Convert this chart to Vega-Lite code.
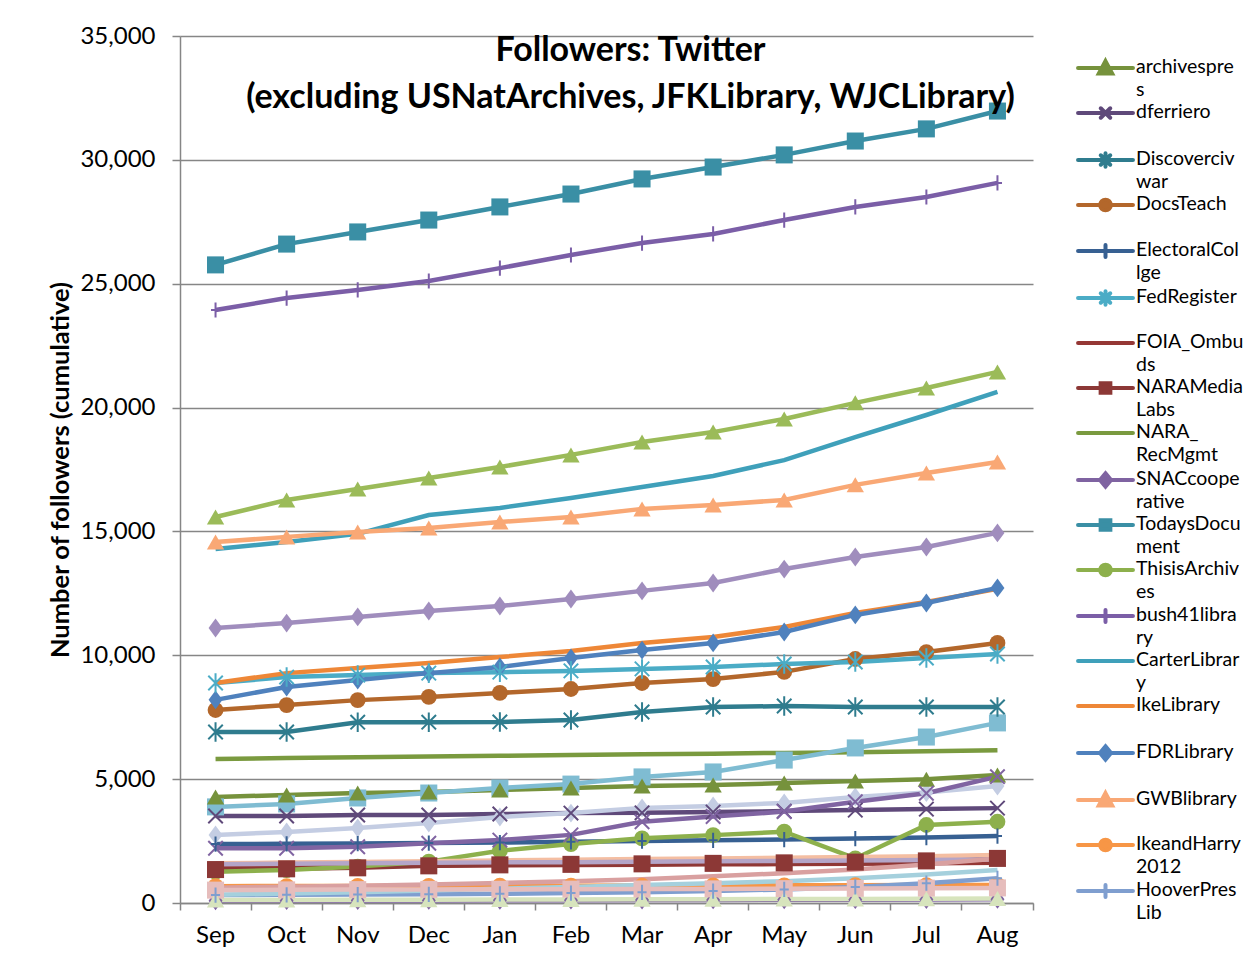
{
"$schema": "https://vega.github.io/schema/vega-lite/v6.json",
"autosize": {"type": "none"},
"padding": {"left": 180, "top": 36, "right": 220, "bottom": 61},
"width": 853,
"height": 867,
"background": "white",
"config": {"font": "Lato", "view": {"stroke": null}},
"title": {"text": ["Followers: Twitter", "(excluding USNatArchives, JFKLibrary, WJCLibrary)"], "font": "Lato", "fontSize": 34, "fontWeight": "bold", "lineHeight": 47, "anchor": "middle", "frame": "group", "dx": 24, "offset": -91, "color": "black"},
"data": {"values": [
{"account":"archivespres","month":"Sep","followers":4280},{"account":"archivespres","month":"Oct","followers":4360},{"account":"archivespres","month":"Nov","followers":4440},{"account":"archivespres","month":"Dec","followers":4480},{"account":"archivespres","month":"Jan","followers":4560},{"account":"archivespres","month":"Feb","followers":4640},{"account":"archivespres","month":"Mar","followers":4720},{"account":"archivespres","month":"Apr","followers":4760},{"account":"archivespres","month":"May","followers":4840},{"account":"archivespres","month":"Jun","followers":4920},{"account":"archivespres","month":"Jul","followers":5000},{"account":"archivespres","month":"Aug","followers":5170},
{"account":"dferriero","month":"Sep","followers":3510},{"account":"dferriero","month":"Oct","followers":3510},{"account":"dferriero","month":"Nov","followers":3550},{"account":"dferriero","month":"Dec","followers":3550},{"account":"dferriero","month":"Jan","followers":3590},{"account":"dferriero","month":"Feb","followers":3630},{"account":"dferriero","month":"Mar","followers":3640},{"account":"dferriero","month":"Apr","followers":3670},{"account":"dferriero","month":"May","followers":3710},{"account":"dferriero","month":"Jun","followers":3750},{"account":"dferriero","month":"Jul","followers":3790},{"account":"dferriero","month":"Aug","followers":3830},
{"account":"Discovercivwar","month":"Sep","followers":6900},{"account":"Discovercivwar","month":"Oct","followers":6900},{"account":"Discovercivwar","month":"Nov","followers":7300},{"account":"Discovercivwar","month":"Dec","followers":7300},{"account":"Discovercivwar","month":"Jan","followers":7310},{"account":"Discovercivwar","month":"Feb","followers":7390},{"account":"Discovercivwar","month":"Mar","followers":7710},{"account":"Discovercivwar","month":"Apr","followers":7910},{"account":"Discovercivwar","month":"May","followers":7950},{"account":"Discovercivwar","month":"Jun","followers":7910},{"account":"Discovercivwar","month":"Jul","followers":7910},{"account":"Discovercivwar","month":"Aug","followers":7910},
{"account":"DocsTeach","month":"Sep","followers":7790},{"account":"DocsTeach","month":"Oct","followers":7990},{"account":"DocsTeach","month":"Nov","followers":8190},{"account":"DocsTeach","month":"Dec","followers":8320},{"account":"DocsTeach","month":"Jan","followers":8480},{"account":"DocsTeach","month":"Feb","followers":8640},{"account":"DocsTeach","month":"Mar","followers":8880},{"account":"DocsTeach","month":"Apr","followers":9040},{"account":"DocsTeach","month":"May","followers":9330},{"account":"DocsTeach","month":"Jun","followers":9850},{"account":"DocsTeach","month":"Jul","followers":10130},{"account":"DocsTeach","month":"Aug","followers":10500},
{"account":"ElectoralCollge","month":"Sep","followers":2380},{"account":"ElectoralCollge","month":"Oct","followers":2390},{"account":"ElectoralCollge","month":"Nov","followers":2400},{"account":"ElectoralCollge","month":"Dec","followers":2420},{"account":"ElectoralCollge","month":"Jan","followers":2440},{"account":"ElectoralCollge","month":"Feb","followers":2470},{"account":"ElectoralCollge","month":"Mar","followers":2500},{"account":"ElectoralCollge","month":"Apr","followers":2530},{"account":"ElectoralCollge","month":"May","followers":2560},{"account":"ElectoralCollge","month":"Jun","followers":2600},{"account":"ElectoralCollge","month":"Jul","followers":2640},{"account":"ElectoralCollge","month":"Aug","followers":2700},
{"account":"FedRegister","month":"Sep","followers":8880},{"account":"FedRegister","month":"Oct","followers":9120},{"account":"FedRegister","month":"Nov","followers":9200},{"account":"FedRegister","month":"Dec","followers":9280},{"account":"FedRegister","month":"Jan","followers":9320},{"account":"FedRegister","month":"Feb","followers":9370},{"account":"FedRegister","month":"Mar","followers":9450},{"account":"FedRegister","month":"Apr","followers":9530},{"account":"FedRegister","month":"May","followers":9650},{"account":"FedRegister","month":"Jun","followers":9730},{"account":"FedRegister","month":"Jul","followers":9890},{"account":"FedRegister","month":"Aug","followers":10050},
{"account":"FOIA_Ombuds","month":"Sep","followers":1450},{"account":"FOIA_Ombuds","month":"Oct","followers":1470},{"account":"FOIA_Ombuds","month":"Nov","followers":1490},{"account":"FOIA_Ombuds","month":"Dec","followers":1500},{"account":"FOIA_Ombuds","month":"Jan","followers":1520},{"account":"FOIA_Ombuds","month":"Feb","followers":1530},{"account":"FOIA_Ombuds","month":"Mar","followers":1540},{"account":"FOIA_Ombuds","month":"Apr","followers":1560},{"account":"FOIA_Ombuds","month":"May","followers":1570},{"account":"FOIA_Ombuds","month":"Jun","followers":1580},{"account":"FOIA_Ombuds","month":"Jul","followers":1600},{"account":"FOIA_Ombuds","month":"Aug","followers":1620},
{"account":"NARAMediaLabs","month":"Sep","followers":1350},{"account":"NARAMediaLabs","month":"Oct","followers":1380},{"account":"NARAMediaLabs","month":"Nov","followers":1420},{"account":"NARAMediaLabs","month":"Dec","followers":1500},{"account":"NARAMediaLabs","month":"Jan","followers":1540},{"account":"NARAMediaLabs","month":"Feb","followers":1560},{"account":"NARAMediaLabs","month":"Mar","followers":1580},{"account":"NARAMediaLabs","month":"Apr","followers":1600},{"account":"NARAMediaLabs","month":"May","followers":1620},{"account":"NARAMediaLabs","month":"Jun","followers":1650},{"account":"NARAMediaLabs","month":"Jul","followers":1700},{"account":"NARAMediaLabs","month":"Aug","followers":1800},
{"account":"NARA_RecMgmt","month":"Sep","followers":5810},{"account":"NARA_RecMgmt","month":"Oct","followers":5850},{"account":"NARA_RecMgmt","month":"Nov","followers":5880},{"account":"NARA_RecMgmt","month":"Dec","followers":5910},{"account":"NARA_RecMgmt","month":"Jan","followers":5940},{"account":"NARA_RecMgmt","month":"Feb","followers":5970},{"account":"NARA_RecMgmt","month":"Mar","followers":6000},{"account":"NARA_RecMgmt","month":"Apr","followers":6030},{"account":"NARA_RecMgmt","month":"May","followers":6060},{"account":"NARA_RecMgmt","month":"Jun","followers":6090},{"account":"NARA_RecMgmt","month":"Jul","followers":6130},{"account":"NARA_RecMgmt","month":"Aug","followers":6170},
{"account":"SNACcooperative","month":"Sep","followers":90},{"account":"SNACcooperative","month":"Oct","followers":95},{"account":"SNACcooperative","month":"Nov","followers":100},{"account":"SNACcooperative","month":"Dec","followers":105},{"account":"SNACcooperative","month":"Jan","followers":110},{"account":"SNACcooperative","month":"Feb","followers":115},{"account":"SNACcooperative","month":"Mar","followers":120},{"account":"SNACcooperative","month":"Apr","followers":125},{"account":"SNACcooperative","month":"May","followers":130},{"account":"SNACcooperative","month":"Jun","followers":135},{"account":"SNACcooperative","month":"Jul","followers":140},{"account":"SNACcooperative","month":"Aug","followers":150},
{"account":"TodaysDocument","month":"Sep","followers":25760},{"account":"TodaysDocument","month":"Oct","followers":26600},{"account":"TodaysDocument","month":"Nov","followers":27090},{"account":"TodaysDocument","month":"Dec","followers":27570},{"account":"TodaysDocument","month":"Jan","followers":28100},{"account":"TodaysDocument","month":"Feb","followers":28620},{"account":"TodaysDocument","month":"Mar","followers":29230},{"account":"TodaysDocument","month":"Apr","followers":29710},{"account":"TodaysDocument","month":"May","followers":30200},{"account":"TodaysDocument","month":"Jun","followers":30760},{"account":"TodaysDocument","month":"Jul","followers":31250},{"account":"TodaysDocument","month":"Aug","followers":31970},
{"account":"ThisisArchives","month":"Sep","followers":1260},{"account":"ThisisArchives","month":"Oct","followers":1330},{"account":"ThisisArchives","month":"Nov","followers":1470},{"account":"ThisisArchives","month":"Dec","followers":1670},{"account":"ThisisArchives","month":"Jan","followers":2110},{"account":"ThisisArchives","month":"Feb","followers":2380},{"account":"ThisisArchives","month":"Mar","followers":2610},{"account":"ThisisArchives","month":"Apr","followers":2740},{"account":"ThisisArchives","month":"May","followers":2880},{"account":"ThisisArchives","month":"Jun","followers":1800},{"account":"ThisisArchives","month":"Jul","followers":3150},{"account":"ThisisArchives","month":"Aug","followers":3280},
{"account":"bush41library","month":"Sep","followers":23940},{"account":"bush41library","month":"Oct","followers":24420},{"account":"bush41library","month":"Nov","followers":24750},{"account":"bush41library","month":"Dec","followers":25110},{"account":"bush41library","month":"Jan","followers":25630},{"account":"bush41library","month":"Feb","followers":26160},{"account":"bush41library","month":"Mar","followers":26640},{"account":"bush41library","month":"Apr","followers":27010},{"account":"bush41library","month":"May","followers":27570},{"account":"bush41library","month":"Jun","followers":28100},{"account":"bush41library","month":"Jul","followers":28500},{"account":"bush41library","month":"Aug","followers":29070},
{"account":"CarterLibrary","month":"Sep","followers":14290},{"account":"CarterLibrary","month":"Oct","followers":14570},{"account":"CarterLibrary","month":"Nov","followers":14900},{"account":"CarterLibrary","month":"Dec","followers":15660},{"account":"CarterLibrary","month":"Jan","followers":15950},{"account":"CarterLibrary","month":"Feb","followers":16350},{"account":"CarterLibrary","month":"Mar","followers":16790},{"account":"CarterLibrary","month":"Apr","followers":17240},{"account":"CarterLibrary","month":"May","followers":17880},{"account":"CarterLibrary","month":"Jun","followers":18810},{"account":"CarterLibrary","month":"Jul","followers":19700},{"account":"CarterLibrary","month":"Aug","followers":20630},
{"account":"IkeLibrary","month":"Sep","followers":8880},{"account":"IkeLibrary","month":"Oct","followers":9280},{"account":"IkeLibrary","month":"Nov","followers":9490},{"account":"IkeLibrary","month":"Dec","followers":9690},{"account":"IkeLibrary","month":"Jan","followers":9930},{"account":"IkeLibrary","month":"Feb","followers":10170},{"account":"IkeLibrary","month":"Mar","followers":10500},{"account":"IkeLibrary","month":"Apr","followers":10740},{"account":"IkeLibrary","month":"May","followers":11140},{"account":"IkeLibrary","month":"Jun","followers":11710},{"account":"IkeLibrary","month":"Jul","followers":12150},{"account":"IkeLibrary","month":"Aug","followers":12680},
{"account":"FDRLibrary","month":"Sep","followers":8200},{"account":"FDRLibrary","month":"Oct","followers":8720},{"account":"FDRLibrary","month":"Nov","followers":9000},{"account":"FDRLibrary","month":"Dec","followers":9280},{"account":"FDRLibrary","month":"Jan","followers":9530},{"account":"FDRLibrary","month":"Feb","followers":9890},{"account":"FDRLibrary","month":"Mar","followers":10210},{"account":"FDRLibrary","month":"Apr","followers":10500},{"account":"FDRLibrary","month":"May","followers":10940},{"account":"FDRLibrary","month":"Jun","followers":11630},{"account":"FDRLibrary","month":"Jul","followers":12110},{"account":"FDRLibrary","month":"Aug","followers":12720},
{"account":"GWBlibrary","month":"Sep","followers":14570},{"account":"GWBlibrary","month":"Oct","followers":14780},{"account":"GWBlibrary","month":"Nov","followers":14980},{"account":"GWBlibrary","month":"Dec","followers":15140},{"account":"GWBlibrary","month":"Jan","followers":15380},{"account":"GWBlibrary","month":"Feb","followers":15580},{"account":"GWBlibrary","month":"Mar","followers":15910},{"account":"GWBlibrary","month":"Apr","followers":16070},{"account":"GWBlibrary","month":"May","followers":16270},{"account":"GWBlibrary","month":"Jun","followers":16880},{"account":"GWBlibrary","month":"Jul","followers":17360},{"account":"GWBlibrary","month":"Aug","followers":17800},
{"account":"IkeandHarry2012","month":"Sep","followers":680},{"account":"IkeandHarry2012","month":"Oct","followers":685},{"account":"IkeandHarry2012","month":"Nov","followers":690},{"account":"IkeandHarry2012","month":"Dec","followers":695},{"account":"IkeandHarry2012","month":"Jan","followers":700},{"account":"IkeandHarry2012","month":"Feb","followers":700},{"account":"IkeandHarry2012","month":"Mar","followers":705},{"account":"IkeandHarry2012","month":"Apr","followers":710},{"account":"IkeandHarry2012","month":"May","followers":715},{"account":"IkeandHarry2012","month":"Jun","followers":720},{"account":"IkeandHarry2012","month":"Jul","followers":725},{"account":"IkeandHarry2012","month":"Aug","followers":730},
{"account":"HooverPresLib","month":"Sep","followers":320},{"account":"HooverPresLib","month":"Oct","followers":330},{"account":"HooverPresLib","month":"Nov","followers":340},{"account":"HooverPresLib","month":"Dec","followers":350},{"account":"HooverPresLib","month":"Jan","followers":370},{"account":"HooverPresLib","month":"Feb","followers":400},{"account":"HooverPresLib","month":"Mar","followers":430},{"account":"HooverPresLib","month":"Apr","followers":480},{"account":"HooverPresLib","month":"May","followers":550},{"account":"HooverPresLib","month":"Jun","followers":650},{"account":"HooverPresLib","month":"Jul","followers":800},{"account":"HooverPresLib","month":"Aug","followers":1000},
{"account":"ReaganLibrary","month":"Sep","followers":15580},{"account":"ReaganLibrary","month":"Oct","followers":16270},{"account":"ReaganLibrary","month":"Nov","followers":16710},{"account":"ReaganLibrary","month":"Dec","followers":17160},{"account":"ReaganLibrary","month":"Jan","followers":17600},{"account":"ReaganLibrary","month":"Feb","followers":18090},{"account":"ReaganLibrary","month":"Mar","followers":18610},{"account":"ReaganLibrary","month":"Apr","followers":19010},{"account":"ReaganLibrary","month":"May","followers":19540},{"account":"ReaganLibrary","month":"Jun","followers":20190},{"account":"ReaganLibrary","month":"Jul","followers":20790},{"account":"ReaganLibrary","month":"Aug","followers":21440},
{"account":"LBJLibrary","month":"Sep","followers":11100},{"account":"LBJLibrary","month":"Oct","followers":11300},{"account":"LBJLibrary","month":"Nov","followers":11550},{"account":"LBJLibrary","month":"Dec","followers":11790},{"account":"LBJLibrary","month":"Jan","followers":11990},{"account":"LBJLibrary","month":"Feb","followers":12270},{"account":"LBJLibrary","month":"Mar","followers":12600},{"account":"LBJLibrary","month":"Apr","followers":12920},{"account":"LBJLibrary","month":"May","followers":13480},{"account":"LBJLibrary","month":"Jun","followers":13970},{"account":"LBJLibrary","month":"Jul","followers":14370},{"account":"LBJLibrary","month":"Aug","followers":14940},
{"account":"NixonLibrary","month":"Sep","followers":3880},{"account":"NixonLibrary","month":"Oct","followers":4000},{"account":"NixonLibrary","month":"Nov","followers":4240},{"account":"NixonLibrary","month":"Dec","followers":4440},{"account":"NixonLibrary","month":"Jan","followers":4640},{"account":"NixonLibrary","month":"Feb","followers":4800},{"account":"NixonLibrary","month":"Mar","followers":5090},{"account":"NixonLibrary","month":"Apr","followers":5290},{"account":"NixonLibrary","month":"May","followers":5770},{"account":"NixonLibrary","month":"Jun","followers":6260},{"account":"NixonLibrary","month":"Jul","followers":6700},{"account":"NixonLibrary","month":"Aug","followers":7270},
{"account":"TrumanLibrary","month":"Sep","followers":2750},{"account":"TrumanLibrary","month":"Oct","followers":2870},{"account":"TrumanLibrary","month":"Nov","followers":3030},{"account":"TrumanLibrary","month":"Dec","followers":3230},{"account":"TrumanLibrary","month":"Jan","followers":3470},{"account":"TrumanLibrary","month":"Feb","followers":3630},{"account":"TrumanLibrary","month":"Mar","followers":3840},{"account":"TrumanLibrary","month":"Apr","followers":3920},{"account":"TrumanLibrary","month":"May","followers":4040},{"account":"TrumanLibrary","month":"Jun","followers":4280},{"account":"TrumanLibrary","month":"Jul","followers":4460},{"account":"TrumanLibrary","month":"Aug","followers":4720},
{"account":"OurPresidents","month":"Sep","followers":2210},{"account":"OurPresidents","month":"Oct","followers":2210},{"account":"OurPresidents","month":"Nov","followers":2270},{"account":"OurPresidents","month":"Dec","followers":2410},{"account":"OurPresidents","month":"Jan","followers":2540},{"account":"OurPresidents","month":"Feb","followers":2750},{"account":"OurPresidents","month":"Mar","followers":3280},{"account":"OurPresidents","month":"Apr","followers":3490},{"account":"OurPresidents","month":"May","followers":3690},{"account":"OurPresidents","month":"Jun","followers":4090},{"account":"OurPresidents","month":"Jul","followers":4430},{"account":"OurPresidents","month":"Aug","followers":5100},
{"account":"archivesfdn","month":"Sep","followers":1600},{"account":"archivesfdn","month":"Oct","followers":1630},{"account":"archivesfdn","month":"Nov","followers":1660},{"account":"archivesfdn","month":"Dec","followers":1690},{"account":"archivesfdn","month":"Jan","followers":1720},{"account":"archivesfdn","month":"Feb","followers":1750},{"account":"archivesfdn","month":"Mar","followers":1780},{"account":"archivesfdn","month":"Apr","followers":1800},{"account":"archivesfdn","month":"May","followers":1830},{"account":"archivesfdn","month":"Jun","followers":1860},{"account":"archivesfdn","month":"Jul","followers":1890},{"account":"archivesfdn","month":"Aug","followers":1940},
{"account":"NARAEvents","month":"Sep","followers":1560},{"account":"NARAEvents","month":"Oct","followers":1580},{"account":"NARAEvents","month":"Nov","followers":1600},{"account":"NARAEvents","month":"Dec","followers":1620},{"account":"NARAEvents","month":"Jan","followers":1640},{"account":"NARAEvents","month":"Feb","followers":1650},{"account":"NARAEvents","month":"Mar","followers":1670},{"account":"NARAEvents","month":"Apr","followers":1690},{"account":"NARAEvents","month":"May","followers":1700},{"account":"NARAEvents","month":"Jun","followers":1720},{"account":"NARAEvents","month":"Jul","followers":1740},{"account":"NARAEvents","month":"Aug","followers":1760},
{"account":"NARAhistorian","month":"Sep","followers":620},{"account":"NARAhistorian","month":"Oct","followers":660},{"account":"NARAhistorian","month":"Nov","followers":700},{"account":"NARAhistorian","month":"Dec","followers":750},{"account":"NARAhistorian","month":"Jan","followers":810},{"account":"NARAhistorian","month":"Feb","followers":880},{"account":"NARAhistorian","month":"Mar","followers":960},{"account":"NARAhistorian","month":"Apr","followers":1080},{"account":"NARAhistorian","month":"May","followers":1200},{"account":"NARAhistorian","month":"Jun","followers":1350},{"account":"NARAhistorian","month":"Jul","followers":1550},{"account":"NARAhistorian","month":"Aug","followers":1800},
{"account":"NatArchAtlanta","month":"Sep","followers":330},{"account":"NatArchAtlanta","month":"Oct","followers":380},{"account":"NatArchAtlanta","month":"Nov","followers":430},{"account":"NatArchAtlanta","month":"Dec","followers":500},{"account":"NatArchAtlanta","month":"Jan","followers":580},{"account":"NatArchAtlanta","month":"Feb","followers":650},{"account":"NatArchAtlanta","month":"Mar","followers":730},{"account":"NatArchAtlanta","month":"Apr","followers":800},{"account":"NatArchAtlanta","month":"May","followers":880},{"account":"NatArchAtlanta","month":"Jun","followers":1000},{"account":"NatArchAtlanta","month":"Jul","followers":1150},{"account":"NatArchAtlanta","month":"Aug","followers":1330},
{"account":"NARAMuseum","month":"Sep","followers":520},{"account":"NARAMuseum","month":"Oct","followers":530},{"account":"NARAMuseum","month":"Nov","followers":540},{"account":"NARAMuseum","month":"Dec","followers":550},{"account":"NARAMuseum","month":"Jan","followers":555},{"account":"NARAMuseum","month":"Feb","followers":560},{"account":"NARAMuseum","month":"Mar","followers":565},{"account":"NARAMuseum","month":"Apr","followers":570},{"account":"NARAMuseum","month":"May","followers":580},{"account":"NARAMuseum","month":"Jun","followers":590},{"account":"NARAMuseum","month":"Jul","followers":600},{"account":"NARAMuseum","month":"Aug","followers":610},
{"account":"ArchivesNYC","month":"Sep","followers":120},{"account":"ArchivesNYC","month":"Oct","followers":125},{"account":"ArchivesNYC","month":"Nov","followers":130},{"account":"ArchivesNYC","month":"Dec","followers":135},{"account":"ArchivesNYC","month":"Jan","followers":140},{"account":"ArchivesNYC","month":"Feb","followers":145},{"account":"ArchivesNYC","month":"Mar","followers":150},{"account":"ArchivesNYC","month":"Apr","followers":155},{"account":"ArchivesNYC","month":"May","followers":160},{"account":"ArchivesNYC","month":"Jun","followers":165},{"account":"ArchivesNYC","month":"Jul","followers":170},{"account":"ArchivesNYC","month":"Aug","followers":180}
]},
"encoding": {
  "x": {"field": "month", "type": "ordinal", "sort": ["Sep","Oct","Nov","Dec","Jan","Feb","Mar","Apr","May","Jun","Jul","Aug"], "bandPosition": 0.5,
        "scale": {"type": "band", "paddingInner": 0, "paddingOuter": 0},
        "axis": {"title": null, "labelFontSize": 24, "labelColor": "black", "labelAngle": 0, "labelPadding": 13, "tickSize": 7, "tickColor": "#868686", "tickWidth": 1.5, "domainColor": "#868686", "domainWidth": 1.5, "bandPosition": 1, "tickExtra": true, "grid": false}},
  "y": {"field": "followers", "type": "quantitative", "scale": {"domain": [0, 35000], "nice": false},
        "axis": {"values": [0,5000,10000,15000,20000,25000,30000,35000], "format": ",.0f", "labelFontSize": 24, "labelColor": "black", "labelPadding": 17, "tickSize": 8, "tickColor": "#868686", "tickWidth": 1.5, "domainColor": "#868686", "domainWidth": 1.5, "grid": true, "gridColor": "#868686", "gridWidth": 1.5, "title": "Number of followers  (cumulative)", "titleFontSize": 25.5, "titleFontWeight": "bold", "titleColor": "black", "titlePadding": 6}},
  "color": {"field": "account", "type": "nominal",
       "scale": {"domain": ["archivespres","dferriero","Discovercivwar","DocsTeach","ElectoralCollge","FedRegister","FOIA_Ombuds","NARAMediaLabs","NARA_RecMgmt","SNACcooperative","TodaysDocument","ThisisArchives","bush41library","CarterLibrary","IkeLibrary","FDRLibrary","GWBlibrary","IkeandHarry2012","HooverPresLib","ReaganLibrary","LBJLibrary","NixonLibrary","TrumanLibrary","OurPresidents","archivesfdn","NARAEvents","NARAhistorian","NatArchAtlanta","NARAMuseum","ArchivesNYC"],
                 "range": ["#76923C","#5F497A","#2F7C8E","#B3672B","#376092","#4BACC6","#953735","#8C3836","#7A9A3F","#7F63A1","#3A8FA5","#8DB04C","#7B5EA7","#3FA0BA","#EE8737","#4F81BD","#F9A875","#F79646","#7F9ECF","#9BBB59","#A08DBD","#7FBCD2","#C4CDE3","#8064A2","#F4BEA2","#B4A5C8","#D9A0A0","#A5D0DD","#E6BDBC","#D7E4BD"]},
       "legend": {"orient": "none", "legendX": 912, "legendY": 18.5, "title": null, "direction": "vertical",
         "values": ["archivespres","dferriero","Discovercivwar","DocsTeach","ElectoralCollge","FedRegister","FOIA_Ombuds","NARAMediaLabs","NARA_RecMgmt","SNACcooperative","TodaysDocument","ThisisArchives","bush41library","CarterLibrary","IkeLibrary","FDRLibrary","GWBlibrary","IkeandHarry2012","HooverPresLib"],
         "symbolSize": 511, "symbolStrokeWidth": 5, "symbolType": "M-2.43,0L2.43,0", "labelFont": "Lato", "labelFontSize": 19.5, "labelColor": "black", "labelLimit": 300, "labelOffset": 17, "rowPadding": 0, "labelBaseline": "top",
         "labelExpr": "[slice(datum.label, 0, [11,99,11,99,12,99,9,9,5,9,10,12,11,12,99,99,99,11,10][indexof(['archivespres','dferriero','Discovercivwar','DocsTeach','ElectoralCollge','FedRegister','FOIA_Ombuds','NARAMediaLabs','NARA_RecMgmt','SNACcooperative','TodaysDocument','ThisisArchives','bush41library','CarterLibrary','IkeLibrary','FDRLibrary','GWBlibrary','IkeandHarry2012','HooverPresLib'], datum.label)]), slice(datum.label, [11,99,11,99,12,99,9,9,5,9,10,12,11,12,99,99,99,11,10][indexof(['archivespres','dferriero','Discovercivwar','DocsTeach','ElectoralCollge','FedRegister','FOIA_Ombuds','NARAMediaLabs','NARA_RecMgmt','SNACcooperative','TodaysDocument','ThisisArchives','bush41library','CarterLibrary','IkeLibrary','FDRLibrary','GWBlibrary','IkeandHarry2012','HooverPresLib'], datum.label)])]",
         "encode": {
           "labels": {"update": {"lineHeight": {"value": 23}, "dy": {"value": -10.4}}},
           "symbols": {"update": {
             "shape": {"signal": "['M-2.43,0L2.43,0M0,-0.61L0.59,0.49L-0.59,0.49Z','M-2.43,0L2.43,0M-0.42,-0.42L0.42,0.42M-0.42,0.42L0.42,-0.42','M-2.43,0L2.43,0M-0.42,-0.42L0.42,0.42M-0.42,0.42L0.42,-0.42M0,-0.59L0,0.59','M-2.43,0L2.43,0M-0.47,0A0.47,0.47 0 1,0 0.47,0A0.47,0.47 0 1,0 -0.47,0Z','M-2.43,0L2.43,0M0,-0.54L0,0.54','M-2.43,0L2.43,0M-0.42,-0.42L0.42,0.42M-0.42,0.42L0.42,-0.42M0,-0.59L0,0.59','M-2.43,0L2.43,0','M-2.43,0L2.43,0M-0.43,-0.43L0.43,-0.43L0.43,0.43L-0.43,0.43Z','M-2.43,0L2.43,0','M-2.43,0L2.43,0M0,-0.59L0.49,0L0,0.59L-0.49,0Z','M-2.43,0L2.43,0M-0.43,-0.43L0.43,-0.43L0.43,0.43L-0.43,0.43Z','M-2.43,0L2.43,0M-0.47,0A0.47,0.47 0 1,0 0.47,0A0.47,0.47 0 1,0 -0.47,0Z','M-2.43,0L2.43,0M0,-0.54L0,0.54','M-2.43,0L2.43,0','M-2.43,0L2.43,0','M-2.43,0L2.43,0M0,-0.59L0.49,0L0,0.59L-0.49,0Z','M-2.43,0L2.43,0M0,-0.61L0.59,0.49L-0.59,0.49Z','M-2.43,0L2.43,0M-0.47,0A0.47,0.47 0 1,0 0.47,0A0.47,0.47 0 1,0 -0.47,0Z','M-2.43,0L2.43,0M0,-0.54L0,0.54'][indexof(['archivespres','dferriero','Discovercivwar','DocsTeach','ElectoralCollge','FedRegister','FOIA_Ombuds','NARAMediaLabs','NARA_RecMgmt','SNACcooperative','TodaysDocument','ThisisArchives','bush41library','CarterLibrary','IkeLibrary','FDRLibrary','GWBlibrary','IkeandHarry2012','HooverPresLib'], datum.value)]"},
             "fill": {"scale": "color", "field": "value"},
             "stroke": {"scale": "color", "field": "value"},
             "strokeWidth": {"value": 4},
             "strokeCap": {"value": "round"},
             "opacity": {"value": 1}
           }}
         }
       }}
},
"layer": [
  {"mark": {"type": "line", "strokeWidth": 4.5}},
  {"transform": [{"filter": {"field": "account", "oneOf": ["DocsTeach","ThisisArchives","IkeandHarry2012"]}}],
   "mark": {"type": "point", "shape": "circle", "filled": true, "size": 250, "opacity": 1}},
  {"transform": [{"filter": {"field": "account", "oneOf": ["SNACcooperative","FDRLibrary","LBJLibrary","TrumanLibrary"]}}],
   "mark": {"type": "point", "shape": "M0,-1.15L0.85,0L0,1.15L-0.85,0Z", "filled": true, "size": 270, "opacity": 1}},
  {"transform": [{"filter": {"field": "account", "oneOf": ["NARAMediaLabs","TodaysDocument","NixonLibrary","NARAMuseum"]}}],
   "mark": {"type": "point", "shape": "square", "filled": true, "size": 290, "opacity": 1}},
  {"transform": [{"filter": {"field": "account", "oneOf": ["archivespres","GWBlibrary","ReaganLibrary","ArchivesNYC"]}}],
   "mark": {"type": "point", "shape": "triangle-up", "filled": true, "size": 300, "opacity": 1}},
  {"transform": [{"filter": {"field": "account", "oneOf": ["dferriero","OurPresidents"]}}],
   "mark": {"type": "point", "shape": "M-1,-1L1,1M-1,1L1,-1", "filled": false, "size": 210, "strokeWidth": 2, "opacity": 1}},
  {"transform": [{"filter": {"field": "account", "oneOf": ["Discovercivwar","FedRegister"]}}],
   "mark": {"type": "point", "shape": "M-1,-1L1,1M-1,1L1,-1M0,-1.35L0,1.35", "filled": false, "size": 210, "strokeWidth": 2, "opacity": 1}},
  {"transform": [{"filter": {"field": "account", "oneOf": ["ElectoralCollge","bush41library","HooverPresLib"]}}],
   "mark": {"type": "point", "shape": "M0,-1L0,1M-0.6,0L0.6,0", "filled": false, "size": 230, "strokeWidth": 2, "opacity": 1}}
]
}
